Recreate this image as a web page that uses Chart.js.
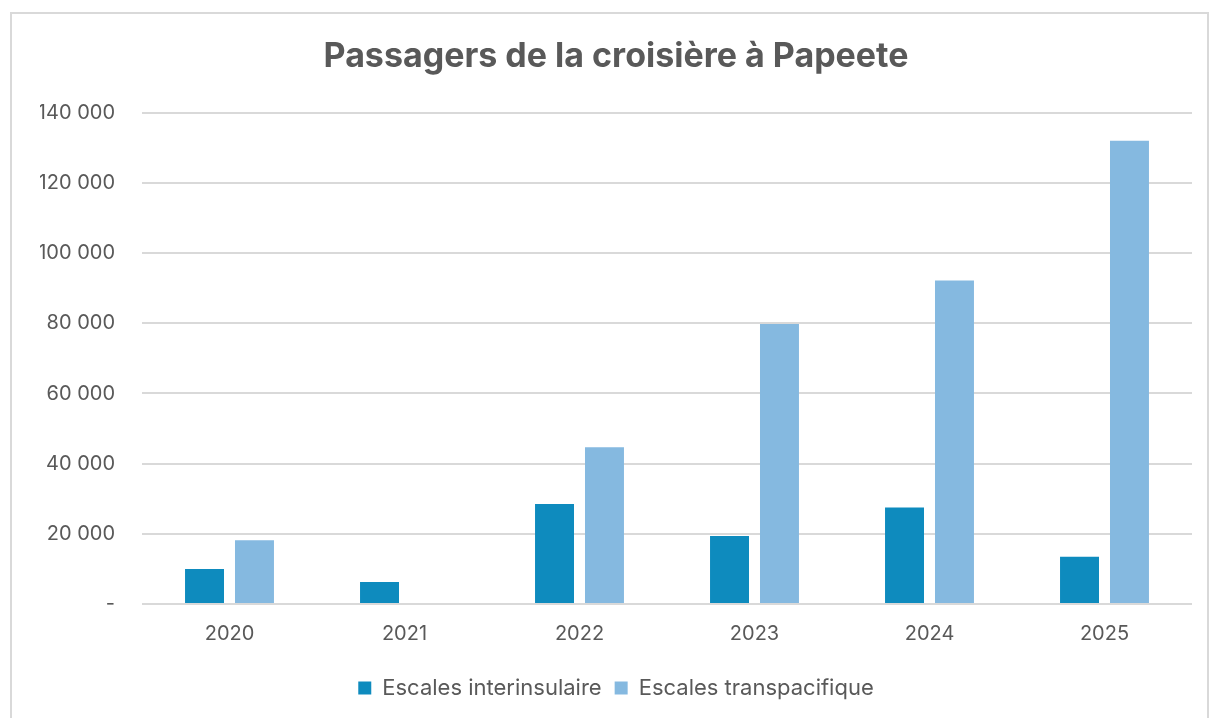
<!DOCTYPE html>
<html lang="fr">
<head>
  <meta charset="UTF-8">
  <title>Passagers de la croisière à Papeete</title>
  <script src="https://cdn.jsdelivr.net/npm/chart.js"></script>
  <style>
    body {
      margin: 0;
      background: #fff;
      overflow: hidden;
    }
    .frame {
      position: absolute;
      left: 10px;
      top: 12px;
      width: 1195px;
      height: 720px;
      border: 2px solid #d9d9d9;
      background: #fff;
    }
    canvas {
      display: block;
    }
  </style>
</head>
<body>

<div class="frame">
  <canvas id="cruiseChart" width="1195" height="704"></canvas>
</div>

<script>
const years = ['2020', '2021', '2022', '2023', '2024', '2025'];
const interinsulaire = [10000, 6300, 28500, 19400, 27500, 13500];
const transpacifique = [18200, 0, 44700, 79800, 92200, 132000];

const textColor = '#595959';
const gridColor = '#d9d9d9';
const fontFamily = 'Inter, "Open Sans", sans-serif';

function frNumber(v) {
  if (v === 0) return '-';
  return v.toString().replace(/\B(?=(\d{3})+(?!\d))/g, ' ');
}

new Chart(document.getElementById('cruiseChart'), {
  type: 'bar',
  data: {
    labels: years,
    datasets: [
      {
        label: 'Escales interinsulaire',
        data: interinsulaire,
        backgroundColor: '#0e8bbe'
      },
      {
        label: 'Escales transpacifique',
        data: transpacifique,
        backgroundColor: '#85b9e0'
      }
    ]
  },
  options: {
    responsive: false,
    animation: false,
    categoryPercentage: 0.571,
    barPercentage: 0.78,
    layout: {
      padding: { left: 28, right: 15, top: 12, bottom: 9 }
    },
    plugins: {
      title: {
        display: true,
        text: 'Passagers de la croisière à Papeete',
        color: textColor,
        font: { family: fontFamily, size: 34, weight: 'bold' },
        padding: { top: 10, bottom: 36 }
      },
      legend: {
        position: 'bottom',
        labels: {
          color: textColor,
          font: { family: fontFamily, size: 22 },
          boxWidth: 13,
          boxHeight: 13,
          padding: 13
        }
      },
      tooltip: { enabled: false }
    },
    scales: {
      x: {
        grid: { display: false, drawTicks: false },
        border: { display: false },
        ticks: {
          color: textColor,
          font: { family: fontFamily, size: 20 },
          padding: 18
        }
      },
      y: {
        min: 0,
        max: 140000,
        afterFit: (scale) => { scale.width = 102; },
        grid: { color: gridColor, lineWidth: 2, drawTicks: false },
        border: { display: false },
        ticks: {
          stepSize: 20000,
          color: textColor,
          font: { family: fontFamily, size: 20 },
          padding: 27,
          callback: (v) => frNumber(v)
        }
      }
    }
  }
});
</script>
</body>
</html>
